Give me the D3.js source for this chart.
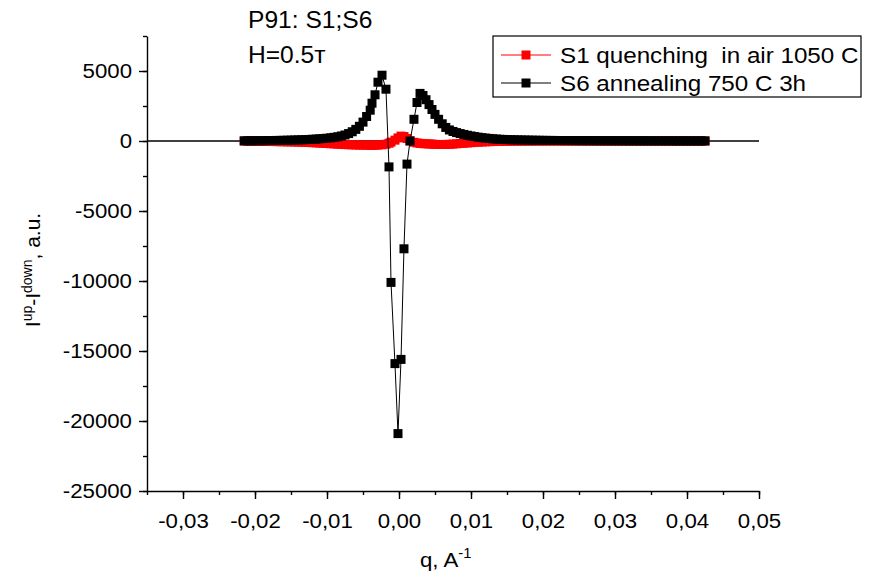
<!DOCTYPE html>
<html>
<head>
<meta charset="utf-8">
<script src="https://cdn.jsdelivr.net/npm/d3@7"></script>
<style>
  body { margin: 0; background: #fff; }
  text { font-family: "Liberation Sans", Arial, sans-serif; fill: #000; }
</style>
</head>
<body>
<svg width="871" height="577"></svg>
<script>
const WIDTH = 871;
const HEIGHT = 577;
// the source lettering is a bit wider than plain Arial
const TICK_STRETCH = 1.06;
const TITLE_STRETCH = 1.07;
const LEGEND_STRETCH = 1.1;

// q, A^-1 (shared by both samples)
const q = [
  -0.0215, -0.0210, -0.0205, -0.0200, -0.0195, -0.0190, -0.0185, -0.0180, -0.0175, -0.0170,
  -0.0165, -0.0160, -0.0155, -0.0150, -0.0145, -0.0140, -0.0135, -0.0130, -0.0125, -0.0120,
  -0.0115, -0.0110, -0.0105, -0.0100, -0.0095, -0.0090, -0.0085, -0.0080, -0.0075, -0.0070,
  -0.0065, -0.0060, -0.0055, -0.0050, -0.0045, -0.0040,
  -0.00375, -0.00333, -0.00292, -0.00236, -0.00181, -0.00139, -0.00111, -0.00056, -0.00014, 0.00028,
  0.00069, 0.00111, 0.00153, 0.00208, 0.00250, 0.00292, 0.00333, 0.00375, 0.00417, 0.00458,
  0.0050, 0.0055, 0.0060, 0.0065, 0.0070, 0.0075, 0.0080, 0.0085, 0.0090, 0.0095,
  0.0100, 0.0105, 0.0110, 0.0115, 0.0120, 0.0125, 0.0130, 0.0135, 0.0140, 0.0145,
  0.0150, 0.0155, 0.0160, 0.0165, 0.0170, 0.0175, 0.0180, 0.0185, 0.0190, 0.0195,
  0.0200, 0.0205, 0.0210, 0.0215, 0.0220, 0.0225, 0.0230, 0.0235, 0.0240, 0.0245,
  0.0250, 0.0255, 0.0260, 0.0265, 0.0270, 0.0275, 0.0280, 0.0285, 0.0290, 0.0295,
  0.0300, 0.0305, 0.0310, 0.0315, 0.0320, 0.0325, 0.0330, 0.0335, 0.0340, 0.0345,
  0.0350, 0.0355, 0.0360, 0.0365, 0.0370, 0.0375, 0.0380, 0.0385, 0.0390, 0.0395,
  0.0400, 0.0405, 0.0410, 0.0415, 0.0420, 0.0425
];

// S1 quenching in air 1050 C
const s1 = [
  0, -5, -10, -15, -20, -25, -30, -35, -40, -45,
  -50, -55, -60, -65, -70, -80, -90, -100, -110, -120,
  -135, -150, -165, -180, -195, -210, -225, -240, -255, -265,
  -275, -285, -290, -295, -300, -300,
  -300, -300, -290, -270, -230, -160, -80, 60, 220, 350,
  320, 180, 20, -90, -140, -170, -190, -200, -210, -220,
  -240, -250, -250, -245, -235, -220, -200, -180, -160, -140,
  -120, -100, -85, -70, -60, -50, -40, -35, -30, -25,
  -20, -18, -16, -14, -12, -10, -9, -8, -7, -6,
  -5, -5, -5, -4, -4, -4, -4, -3, -3, -3,
  -3, -3, -2, -2, -2, -2, -2, -2, -1, -1,
  -1, -1, -1, -1, -1, -1, 0, 0, 0, 0,
  0, 0, 0, 0, 0, 0, 0, 0, 0, 0,
  0, 0, 0, 0, 0, 0
];

// S6 annealing 750 C 3h
const s6 = [
  10, 12, 15, 18, 20, 24, 28, 32, 36, 40,
  45, 50, 56, 62, 70, 78, 88, 98, 110, 125,
  140, 158, 178, 200, 228, 262, 305, 360, 430, 530,
  660, 830, 1050, 1350, 1750, 2200,
  2700, 3300, 4200, 4700, 3700, -1850, -10100, -15900, -20900, -15600,
  -7700, -1650, 0, 1550, 2750, 3400, 3250, 2950, 2600, 2250,
  1900, 1550, 1230, 970, 790, 680, 600, 530, 470, 410,
  360, 315, 275, 240, 210, 185, 160, 140, 125, 112,
  100, 92, 85, 78, 72, 67, 62, 58, 54, 50,
  47, 44, 41, 39, 37, 35, 33, 31, 30, 28,
  27, 26, 25, 24, 23, 22, 21, 20, 19, 18,
  18, 17, 16, 16, 15, 15, 14, 14, 13, 13,
  12, 12, 11, 11, 10, 10, 10, 9, 9, 9,
  8, 8, 8, 7, 7, 7
];

const xTicks = [-0.03, -0.02, -0.01, 0, 0.01, 0.02, 0.03, 0.04, 0.05];
const xTickLabels = ["-0,03", "-0,02", "-0,01", "0,00", "0,01", "0,02", "0,03", "0,04", "0,05"];
const yTicks = [-25000, -20000, -15000, -10000, -5000, 0, 5000];
const yTickLabels = ["-25000", "-20000", "-15000", "-10000", "-5000", "0", "5000"];
const seriesNames = ["S1 quenching  in air 1050 C", "S6 annealing 750 C 3h"];
const seriesColors = ["#ff0000", "#000000"];

let svg = d3.select("svg");

let x = d3.scaleLinear().domain([-0.035, 0.05]).range([147, 759]);
let y = d3.scaleLinear().domain([-25000, 7500]).range([491, 36]);

// minor ticks
svg.append("g")
   .attr("transform", "translate(0,491)")
   .call(d3.axisBottom(x).tickValues(d3.range(-0.035, 0.0501, 0.005)).tickSize(4).tickSizeOuter(0).tickFormat(""))
   .call(g => g.select(".domain").remove());
svg.append("g")
   .attr("transform", "translate(147,0)")
   .call(d3.axisLeft(y).tickValues(d3.range(-25000, 7501, 2500)).tickSize(4).tickSizeOuter(0).tickFormat(""))
   .call(g => g.select(".domain").remove());

// major ticks + axis lines
let xAxis = svg.append("g")
   .attr("transform", "translate(0,491)")
   .call(d3.axisBottom(x).tickValues(xTicks).tickSize(8).tickSizeOuter(0).tickFormat((d, i) => xTickLabels[i]));
xAxis.selectAll("text")
   .attr("y", 22)
   .style("font-size", "21px")
   .attr("transform", "scale(" + TICK_STRETCH + ",1)");

let yAxis = svg.append("g")
   .attr("transform", "translate(147,0)")
   .call(d3.axisLeft(y).tickValues(yTicks).tickSize(8).tickSizeOuter(0).tickFormat((d, i) => yTickLabels[i]));
yAxis.selectAll("text")
   .attr("x", -15 / TICK_STRETCH)
   .style("font-size", "21px")
   .attr("transform", "scale(" + TICK_STRETCH + ",1)");

svg.selectAll(".domain, .tick line").attr("stroke", "#000").attr("stroke-width", 1.4);

// zero line
svg.append("line")
   .attr("x1", x(-0.035)).attr("x2", x(0.05))
   .attr("y1", y(0)).attr("y2", y(0))
   .attr("stroke", "#000").attr("stroke-width", 1.4);

const MARK = 9;
const drawSeries = (values, color) => {
  let pts = q.map((d, i) => [x(d), y(values[i])]);
  svg.append("path")
     .attr("d", d3.line()(pts))
     .attr("fill", "none")
     .attr("stroke", color)
     .attr("stroke-width", 1);
  svg.append("g").selectAll("rect")
     .data(pts)
     .enter().append("rect")
     .attr("x", d => d[0] - MARK / 2)
     .attr("y", d => d[1] - MARK / 2)
     .attr("width", MARK)
     .attr("height", MARK)
     .attr("fill", color);
};
drawSeries(s1, seriesColors[0]);
drawSeries(s6, seriesColors[1]);

// legend
let legend = svg.append("g");
legend.append("rect")
      .attr("x", 493).attr("y", 36).attr("width", 368).attr("height", 61)
      .attr("fill", "#fff").attr("stroke", "#000").attr("stroke-width", 1.2);
seriesNames.forEach((name, i) => {
  let cy = 55 + i * 28;
  legend.append("line")
        .attr("x1", 501).attr("x2", 551).attr("y1", cy).attr("y2", cy)
        .attr("stroke", seriesColors[i]).attr("stroke-width", 1);
  legend.append("rect")
        .attr("x", 526 - MARK / 2).attr("y", cy - MARK / 2)
        .attr("width", MARK).attr("height", MARK)
        .attr("fill", seriesColors[i]);
  legend.append("text")
        .attr("transform", "translate(560," + (cy + 7.5) + ") scale(" + LEGEND_STRETCH + ",1)")
        .style("font-size", "22px")
        .style("white-space", "pre")
        .text(name);
});

// title lines
svg.append("text")
   .attr("transform", "translate(248,28) scale(" + TITLE_STRETCH + ",1)")
   .style("font-size", "23px")
   .text("P91: S1;S6");
svg.append("text")
   .attr("transform", "translate(248,63) scale(" + TITLE_STRETCH + ",1)")
   .style("font-size", "23px")
   .text("H=0.5т");

// axis titles
let xl = svg.append("text")
   .attr("transform", "translate(420,567) scale(" + TICK_STRETCH + ",1)")
   .style("font-size", "21px");
xl.append("tspan").text("q, A");
xl.append("tspan").attr("dy", -9).style("font-size", "14px").text("-1");

let yl = svg.append("text")
   .attr("transform", "translate(40,270) rotate(-90)")
   .attr("text-anchor", "middle")
   .style("font-size", "21px");
yl.append("tspan").text("I");
yl.append("tspan").attr("dy", -8).style("font-size", "14px").text("up");
yl.append("tspan").attr("dy", 8).text("-I");
yl.append("tspan").attr("dy", -8).style("font-size", "14px").text("down");
yl.append("tspan").attr("dy", 8).text(", a.u.");
</script>
</body>
</html>
